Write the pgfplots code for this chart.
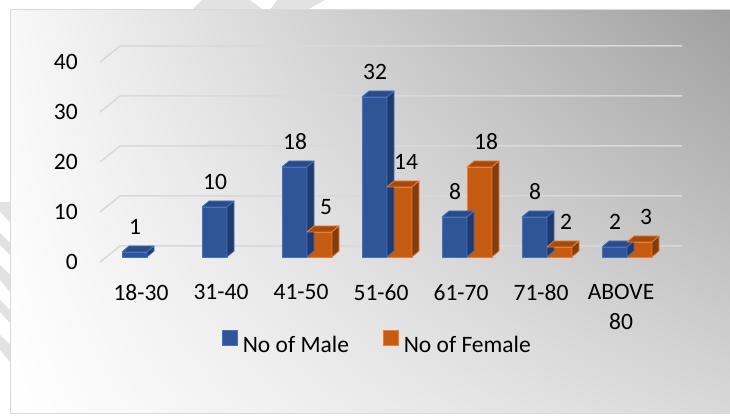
\documentclass[border=0pt]{standalone}
\usepackage{pgfplots}
\pgfplotsset{compat=1.18}
\usepackage{pgfplotstable}
\usetikzlibrary{shadings}
\usepackage{fontspec}
\setmainfont{Carlito}

\definecolor{maleFront}{HTML}{2F5597}
\definecolor{maleEdge}{HTML}{4472C4}
\definecolor{maleSide}{HTML}{203A6C}
\definecolor{maleTop}{HTML}{2A4A88}
\definecolor{femFront}{HTML}{C55A11}
\definecolor{femEdge}{HTML}{ED7D31}
\definecolor{femSide}{HTML}{843C0C}
\definecolor{femTop}{HTML}{A34A0F}
\definecolor{gridc}{HTML}{D9D9D9}
\definecolor{markc}{HTML}{E2E2E2}
\definecolor{bgUL}{HTML}{F8F8F8}
\definecolor{bgUR}{HTML}{9E9E9E}
\definecolor{bgLL}{HTML}{FFFFFF}
\definecolor{bgLR}{HTML}{D8D8D8}

\newcommand{\chartfont}{\fontsize{23.5}{30}\selectfont}

% empty plot mark: the 3D caps are drawn by the scatter code
\pgfdeclareplotmark{none3d}{}

% patients by age group
\pgfplotstableread{
x male
0 1
1 10
2 18
3 32
4 8
5 8
6 2
}\maletab
\pgfplotstableread{
x female
2 5
3 14
4 18
5 2
6 3
}\femtab

% top and side faces of a bar of width 25pt, depth (7pt,6pt), centred at #1
\newcommand{\barcap}[3]{%
  \fill[#2, draw=#3, line width=0.8pt, line join=round]
    ({#1-12.5pt},0pt) -- ({#1+12.5pt},0pt) -- ({#1+19.5pt},6pt) -- ({#1-5.5pt},6pt) -- cycle;
}
\newcommand{\barside}[3]{%
  \fill[#2, draw=#3, line width=0.8pt, line join=round]
    ({#1+12.5pt},0pt) -- ({#1+19.5pt},6pt) -- ({#1+19.5pt},{6pt-\ry*5pt}) -- ({#1+12.5pt},{-\ry*5pt}) -- cycle;
}

\begin{document}
\begin{tikzpicture}[x=1pt,y=1pt]
\path[use as bounding box] (0,0) rectangle (730,417);
\fill[white] (0,0) rectangle (730,417);

% faint page marks around the frame
\fill[markc] (192,407) -- (202,417) -- (250,417) -- (263,407) -- cycle;
\fill[markc] (270,407) -- (277,417) -- (325,417) -- (307,407) -- cycle;
\fill[markc] (0,215) -- (10,215) -- (10,195) -- (0,205) -- cycle;
\fill[markc] (0,184) -- (10,174) -- (10,162) -- (0,172) -- cycle;
\fill[markc] (0,152) -- (10,142) -- (10,125) -- (0,137) -- cycle;
\fill[markc] (0,117) -- (10,107) -- (10,94) -- (0,105) -- cycle;
\fill[markc] (0,82) -- (10,72) -- (10,55) -- (0,67) -- cycle;

% chart area
\shade[upper left=bgUL, upper right=bgUR, lower left=bgLL, lower right=bgLR]
  (10,3) rectangle (740,407);
\draw[gridc, line width=1pt] (740,407) -- (10,407) -- (10,3) -- (740,3);

\begin{axis}[
  at={(82pt,133pt)}, anchor=south west,
  x=80pt, y=5pt,
  xmin=-0.8125, xmax=6.9,
  ymin=-5.4, ymax=44,
  clip=false,
  axis line style={draw=none},
  tick style={draw=none},
  font=\chartfont,
  /pgf/number format/assume math mode=true,
  ytick={-1,9,19,29,39},
  yticklabels={0,10,20,30,40},
  yticklabel style={anchor=east, inner sep=0pt, xshift=-4pt},
  xtick={-0.075,0.925,1.925,2.925,3.925,4.925,5.925},
  xticklabels={18-30,31-40,41-50,51-60,61-70,71-80,{ABOVE\\80}},
  xticklabel style={anchor=north, inner sep=0pt, align=center},
  legend columns=2,
  legend style={draw=none, fill=none, inner sep=0pt, outer sep=0pt,
    at={(0.2269,-0.2348)}, anchor=west, font=\chartfont,
    nodes={inner xsep=5pt, inner ysep=0pt},
    /tikz/every even column/.append style={column sep=29pt}},
]

% back-wall gridlines with their floor diagonals
\addplot[gridc, line width=1.5pt, forget plot] coordinates {(-0.5875,-1) (-0.3375,2.2) (6.6875,2.2)};
\addplot[gridc, line width=1.5pt, forget plot] coordinates {(-0.5875,9) (-0.3375,12.2) (6.6875,12.2)};
\addplot[gridc, line width=1.5pt, forget plot] coordinates {(-0.5875,19) (-0.3375,22.2) (6.6875,22.2)};
\addplot[gridc, line width=1.5pt, forget plot] coordinates {(-0.5875,29) (-0.3375,32.2) (6.6875,32.2)};
\addplot[gridc, line width=1.5pt, forget plot] coordinates {(-0.5875,39) (-0.3375,42.2) (6.6875,42.2)};

% male bars
\addplot[ybar, bar width=25pt, bar shift=-12.5pt,
  fill=maleFront, draw=maleEdge, line width=0.8pt,
  nodes near coords,
  every node near coord/.append style={anchor=center, yshift=25pt, xshift=-12pt, font=\chartfont, text=black},
  legend image code/.code={\fill[maleFront, draw=maleEdge, line width=0.8pt] (0pt,0pt) rectangle (15pt,15pt);}]
  table[x=x, y=male] {\maletab};
\addlegendentry{No of Male}
\addplot[scatter, only marks, mark=none3d, forget plot,
  visualization depends on={rawy \as \ry},
  scatter/@pre marker code/.code={\barcap{-12.5pt}{maleTop}{maleEdge}\barside{-12.5pt}{maleSide}{maleEdge}},
  scatter/@post marker code/.code={}]
  table[x=x, y=male] {\maletab};

% female bars
\addplot[ybar, bar width=25pt, bar shift=12.5pt,
  fill=femFront, draw=femEdge, line width=0.8pt,
  nodes near coords,
  every node near coord/.append style={anchor=center, yshift=25pt, xshift=19pt, font=\chartfont, text=black},
  legend image code/.code={\fill[femFront, draw=femEdge, line width=0.8pt] (0pt,0pt) rectangle (15pt,15pt);}]
  table[x=x, y=female] {\femtab};
\addlegendentry{No of Female}
\addplot[scatter, only marks, mark=none3d, forget plot,
  visualization depends on={rawy \as \ry},
  scatter/@pre marker code/.code={\barcap{12.5pt}{femTop}{femEdge}\barside{12.5pt}{femSide}{femEdge}},
  scatter/@post marker code/.code={}]
  table[x=x, y=female] {\femtab};

\end{axis}
\end{tikzpicture}
\end{document}
